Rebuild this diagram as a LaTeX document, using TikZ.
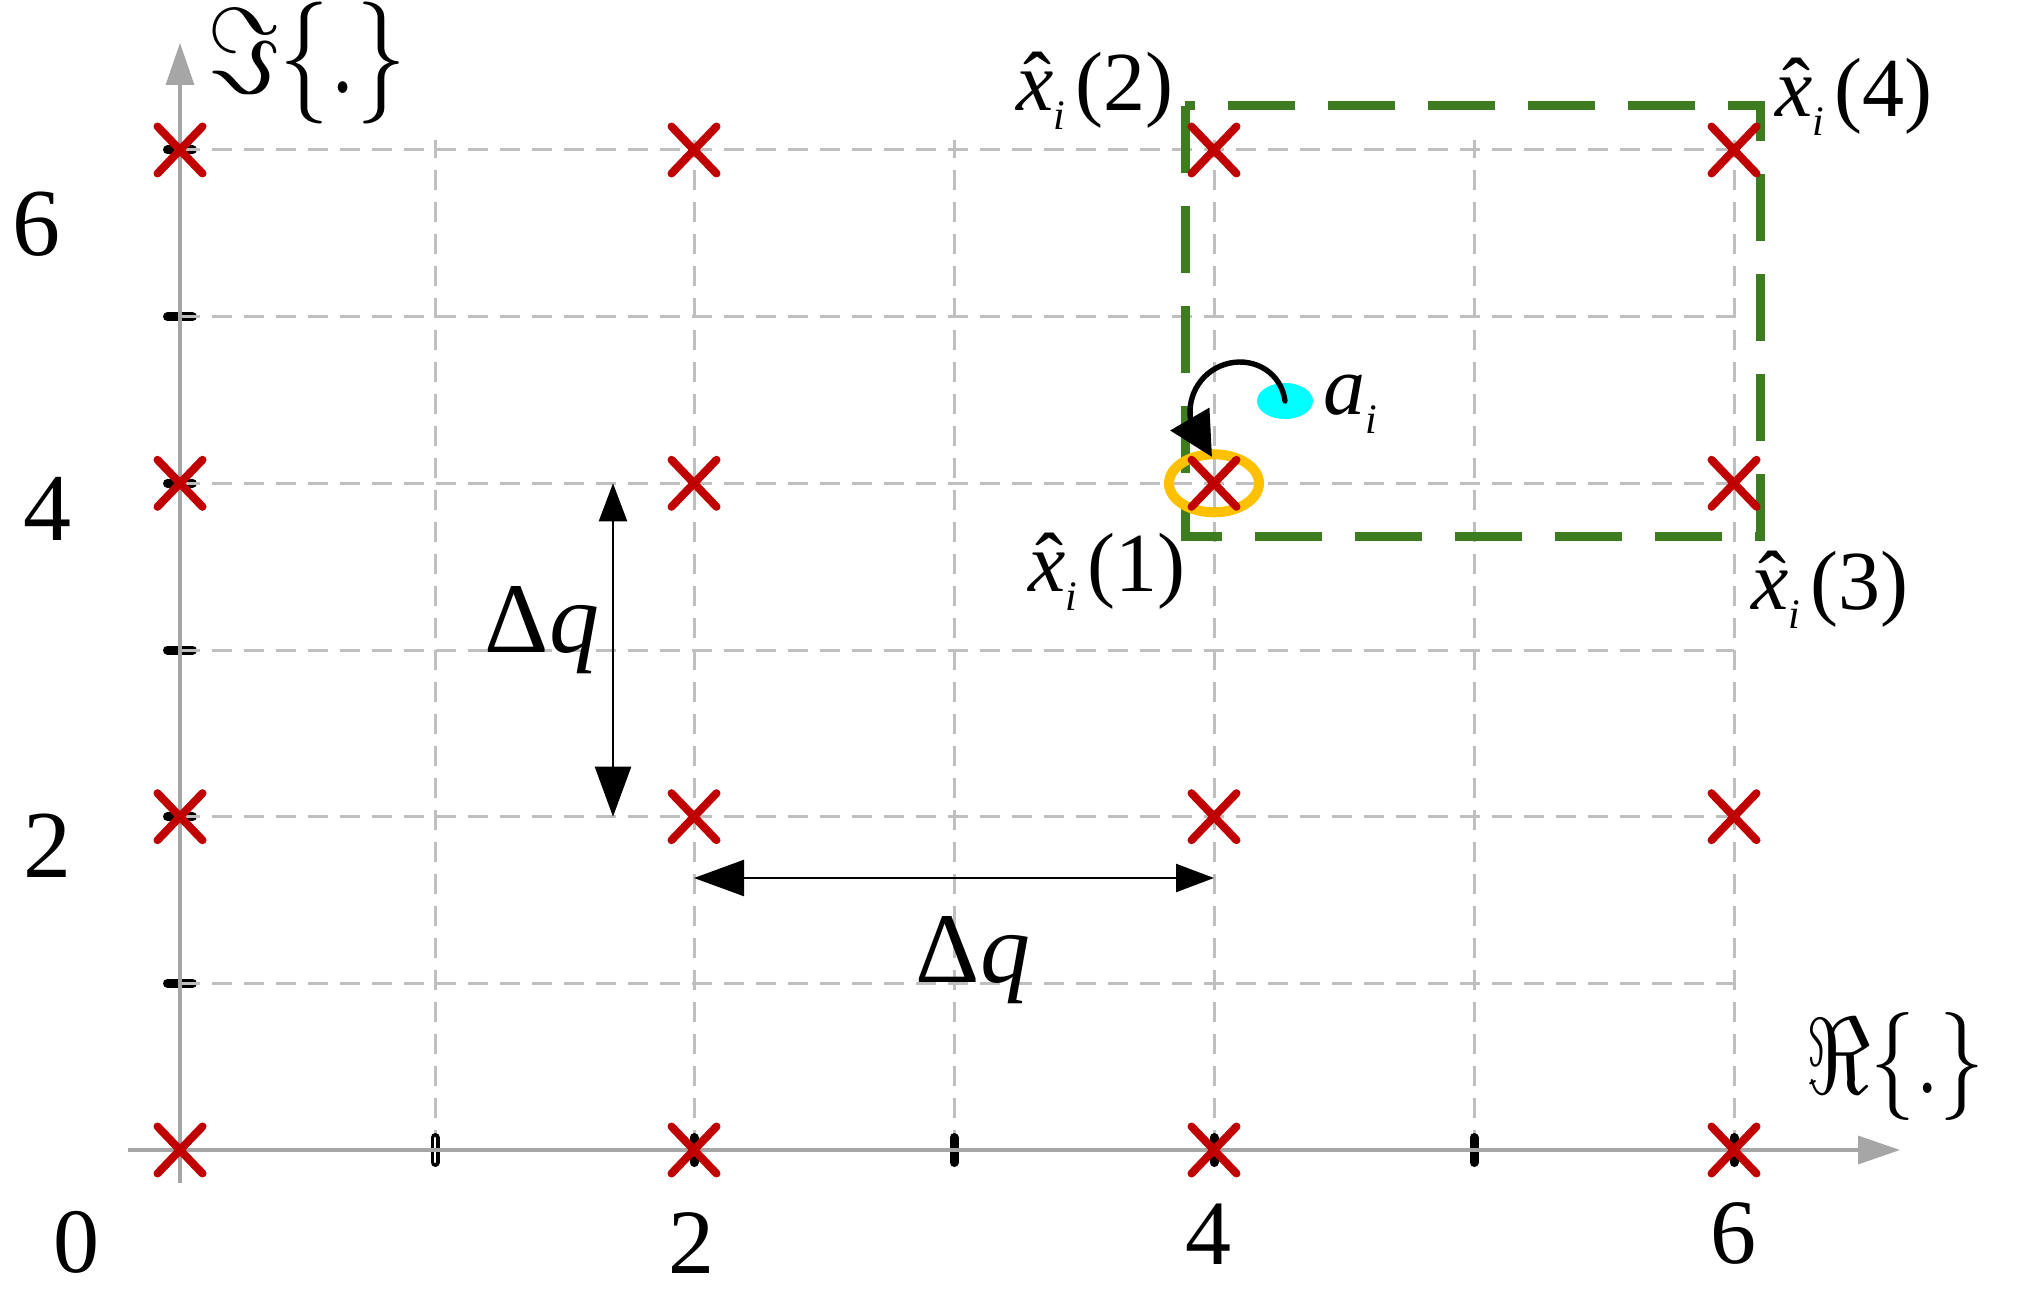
\documentclass[tikz,border=0pt]{standalone}
\usepackage{fix-cm}
\usepackage{fontspec}
\setmainfont{Liberation Serif}
\usetikzlibrary{arrows.meta,shapes.misc,shapes.geometric}
\definecolor{gridgray}{RGB}{191,191,191}
\definecolor{axisgray}{RGB}{166,166,166}
\definecolor{xred}{RGB}{192,0,0}
\definecolor{boxgreen}{RGB}{62,124,34}
\definecolor{ringorange}{RGB}{255,192,0}
\definecolor{dotcyan}{RGB}{0,255,255}
\newcommand\xh{\makebox[0pt][l]{\hspace{0.08em}ˆ}\textit{x}}
\newcommand\subi{\raisebox{-0.22em}{\fontsize{21}{24}\selectfont\textit{i}}}
\begin{document}
\begin{tikzpicture}[x=0.5pt,y=-0.5pt,
  gridst/.style={draw=gridgray,line width=1.5pt,dash pattern=on 10pt off 6pt},
  axisst/.style={draw=axisgray,line width=1.7pt,-{Triangle[length=21pt,width=14pt]}},
  tickst/.style={draw=black,line width=4.5pt,line cap=round},
  crossst/.style={cross out,draw=xred,line width=4pt,line cap=round,minimum width=18.5pt,minimum height=19.5pt,inner sep=0pt},
  greenbox/.style={draw=boxgreen,line width=4.5pt,dash pattern=on 33.5pt off 16.5pt},
  dimarrow/.style={draw=black,line width=1.2pt},
  bighead/.style={{Triangle[length=25pt,width=18pt]}-{Triangle[length=19pt,width=14pt]}},
  num/.style={inner sep=0pt,font=\fontsize{46}{55}\selectfont},
  numy/.style={inner sep=0pt,font=\fontsize{48}{58}\selectfont},
  lbl/.style={inner sep=0pt,font=\fontsize{42}{50}\selectfont},
  dq/.style={inner sep=0pt,font=\fontsize{50}{60}\selectfont},
  axl/.style={inner sep=0pt,font=\fontsize{50}{60}\selectfont},
  axlr/.style={inner sep=0pt,font=\fontsize{45}{54}\selectfont}]
\useasboundingbox (0,0) rectangle (2019,1295);
% grid coordinates
\foreach \i/\xv in {0/180,1/435,2/694,3/954,4/1214,5/1474,6/1734}{
  \foreach \j/\yv in {0/1150,1/983.3,2/816.7,3/650,4/483.3,5/316.7,6/150}{
    \coordinate (g\i\j) at (\xv,\yv);
  }
}
\coordinate (gtop) at (0,140);
% y-axis ticks
\foreach \j in {1,...,6}{
  \draw[tickst] ([xshift=-6.25pt]g0\j) -- ([xshift=6.25pt]g0\j);
}
% grid
\foreach \j in {1,...,6}{
  \draw[gridst] (g0\j) -- (g6\j);
}
\foreach \i in {1,...,6}{
  \draw[gridst] (g\i0) -- (g\i0 |- gtop);
}
% x-axis ticks
\foreach \i in {1,...,6}{
  \draw[tickst] ([yshift=-6.25pt]g\i0) -- ([yshift=6.25pt]g\i0);
}
\draw[white,line width=1.3pt,line cap=round] ([yshift=-6pt]g10) -- ([yshift=6pt]g10);
% axes
\coordinate (xs) at (128,1150);
\coordinate (xe) at (1900,1150);
\coordinate (ys) at (180,1183);
\coordinate (ye) at (180,43);
\draw[axisst] (xs) -- (xe);
\draw[axisst] (ys) -- (ye);
% green dashed box
\coordinate (gb1) at (1185,106);
\coordinate (gb2) at (1185,536);
\coordinate (gb3) at (1760,536);
\coordinate (gb4) at (1760,106);
\draw[greenbox] (gb1) -- (gb2) -- (gb3) -- (gb4) -- cycle;
% dimension arrows
\coordinate (va1) at (613,483.3);
\coordinate (va2) at (613,816.7);
\draw[dimarrow,bighead] (va2) -- (va1);
\coordinate (ha1) at (694,878);
\coordinate (ha2) at (1214,878);
\draw[dimarrow,bighead] (ha1) -- (ha2);
% cyan point
\node[ellipse,fill=dotcyan,minimum width=28pt,minimum height=18pt,inner sep=0pt] (cdot) at (1285,401) {};
% orange ring
\node[ellipse,draw=ringorange,line width=5pt,minimum width=45pt,minimum height=29pt,inner sep=0pt] (ring) at (g44) {};
% curved arrow
\coordinate (cb) at (1190.8,420.7);
\coordinate (ct) at (1212,457);
\draw[black,line width=2.7pt,line cap=round] (cdot.center) .. controls (1281.4,373.2) and (1255.4,357.4) .. (1229.2,363.2)
  .. controls (1203,369) and (1186.1,394.3) .. (cb);
\draw[black,line width=2.7pt,-{Triangle[length=22pt,width=22pt]}] (cb) -- (ct);
% crosses
\foreach \i in {0,2,4,6}{
  \foreach \j in {0,2,4,6}{
    \node[crossst] (c\i\j) at (g\i\j) {};
  }
}
% axis numbers
\node[num] (lx0) at (77,1242) {0};
\node[num] (lx2) at (691,1243) {2};
\node[num] (lx4) at (1208,1234) {4};
\node[num] (lx6) at (1733,1233) {6};
\node[numy] (ly6) at (36,224) {6};
\node[numy] (ly4) at (48,509) {4};
\node[numy] (ly2) at (48,846) {2};
% axis names
\node[axl] (imlab) at (307,63) {\scalebox{1}[1.22]{$\Im\{.\}$}};
\node[axlr] (relab) at (1895,1066) {\scalebox{1}[1.2]{$\Re\{.\}$}};
% point labels
\node[lbl] (lab2) at (1095,91) {\xh\subi\hspace{0.12em}(2)};
\node[lbl] (lab4) at (1854,97) {\xh\subi\hspace{0.12em}(4)};
\node[lbl] (lab1) at (1107,572) {\xh\subi\hspace{0.12em}(1)};
\node[lbl] (lab3) at (1830,590) {\xh\subi\hspace{0.12em}(3)};
\node[lbl] (alab) at (1350,404) {\textit{a}\subi};
% delta q labels
\node[dq] (dqv) at (542,630) {Δ\textit{q}};
\node[dq] (dqh) at (973,960) {Δ\textit{q}};
\end{tikzpicture}
\end{document}
